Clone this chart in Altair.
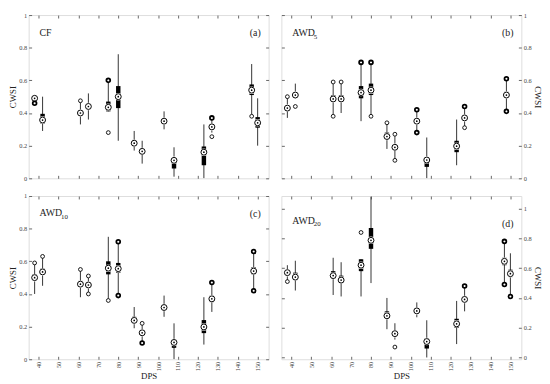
import altair as alt
import pandas as pd

FONT = "Liberation Serif"
DPS_TICKS = [40, 50, 60, 70, 80, 90, 100, 110, 120, 130, 140, 150]
Y_TICKS = [0, 0.2, 0.4, 0.6, 0.8, 1]
X_DOMAIN = [35, 155.5]

# ---------------- Panel (a) CF ----------------
pos_a = [38, 42, 61, 65, 75, 80, 88, 92, 103, 108, 123, 127, 147, 150]
med_a = [0.49, 0.357, 0.40, 0.44, 0.435, 0.50, 0.215, 0.165, 0.35, 0.11, 0.16, 0.315, 0.54, 0.34]
q1_a = [0.485, 0.335, 0.39, 0.425, 0.41, 0.43, 0.20, 0.155, 0.34, 0.06, 0.08, 0.31, 0.51, 0.31]
q3_a = [0.495, 0.395, 0.41, 0.455, 0.47, 0.565, 0.235, 0.18, 0.36, 0.125, 0.195, 0.33, 0.575, 0.375]
lo_a = [0.49, 0.29, 0.33, 0.36, 0.41, 0.23, 0.17, 0.09, 0.30, 0.01, 0.0, 0.28, 0.39, 0.20]
hi_a = [0.49, 0.50, 0.47, 0.52, 0.60, 0.76, 0.29, 0.23, 0.41, 0.19, 0.33, 0.36, 0.70, 0.49]
ox_a = [38, 61, 75, 75, 127, 127, 147]
oy_a = [0.46, 0.475, 0.60, 0.28, 0.37, 0.255, 0.38]
ob_a = [1, 0, 1, 0, 1, 0, 0]

# ---------------- Panel (b) AWD5 ----------------
pos_b = [38, 42, 61, 65, 75, 80, 88, 92, 103, 108, 123, 127, 148]
med_b = [0.43, 0.51, 0.486, 0.486, 0.525, 0.54, 0.256, 0.19, 0.35, 0.112, 0.197, 0.37, 0.51]
q1_b = [0.42, 0.50, 0.47, 0.47, 0.49, 0.51, 0.24, 0.18, 0.34, 0.07, 0.16, 0.36, 0.50]
q3_b = [0.44, 0.52, 0.51, 0.51, 0.565, 0.58, 0.28, 0.20, 0.36, 0.13, 0.23, 0.38, 0.53]
lo_b = [0.37, 0.49, 0.38, 0.40, 0.35, 0.38, 0.18, 0.11, 0.28, 0.0, 0.08, 0.31, 0.41]
hi_b = [0.50, 0.58, 0.59, 0.59, 0.71, 0.71, 0.34, 0.27, 0.42, 0.25, 0.36, 0.44, 0.61]
ox_b = [38, 42, 61, 61, 65, 75, 80, 80, 88, 92, 92, 103, 103, 127, 127, 148, 148]
oy_b = [0.50, 0.44, 0.59, 0.38, 0.59, 0.71, 0.71, 0.38, 0.34, 0.27, 0.11, 0.42, 0.28, 0.44, 0.31, 0.61, 0.41]
ob_b = [0, 0, 0, 0, 0, 1, 1, 0, 0, 0, 0, 1, 1, 1, 0, 1, 1]

# ---------------- Panel (c) AWD10 ----------------
pos_c = [38, 42, 61, 65, 75, 80, 88, 92, 103, 108, 123, 127, 148]
med_c = [0.50, 0.535, 0.46, 0.455, 0.558, 0.555, 0.238, 0.162, 0.317, 0.103, 0.198, 0.37, 0.54]
q1_c = [0.48, 0.52, 0.45, 0.45, 0.52, 0.53, 0.23, 0.155, 0.31, 0.07, 0.16, 0.35, 0.52]
q3_c = [0.52, 0.555, 0.48, 0.46, 0.60, 0.59, 0.26, 0.17, 0.325, 0.12, 0.24, 0.39, 0.565]
lo_c = [0.40, 0.45, 0.38, 0.40, 0.37, 0.39, 0.19, 0.10, 0.26, 0.0, 0.09, 0.29, 0.42]
hi_c = [0.59, 0.63, 0.55, 0.51, 0.75, 0.72, 0.32, 0.22, 0.39, 0.22, 0.38, 0.47, 0.66]
ox_c = [38, 42, 61, 65, 65, 75, 80, 80, 92, 92, 127, 148, 148]
oy_c = [0.59, 0.63, 0.55, 0.51, 0.40, 0.36, 0.72, 0.39, 0.22, 0.10, 0.47, 0.66, 0.42]
ob_c = [0, 0, 0, 0, 0, 0, 1, 1, 0, 1, 1, 1, 1]

# ---------------- Panel (d) AWD20 ----------------
pos_d = [38, 42, 61, 65, 75, 80, 88, 92, 103, 108, 123, 127, 147, 150]
med_d = [0.57, 0.54, 0.55, 0.52, 0.62, 0.787, 0.28, 0.16, 0.313, 0.107, 0.226, 0.39, 0.646, 0.563]
q1_d = [0.56, 0.52, 0.53, 0.50, 0.58, 0.73, 0.27, 0.155, 0.305, 0.06, 0.20, 0.38, 0.62, 0.54]
q3_d = [0.58, 0.57, 0.58, 0.55, 0.66, 0.87, 0.31, 0.17, 0.32, 0.13, 0.26, 0.41, 0.67, 0.59]
lo_d = [0.50, 0.45, 0.42, 0.41, 0.41, 0.50, 0.19, 0.12, 0.27, 0.0, 0.09, 0.31, 0.50, 0.41]
hi_d = [0.62, 0.65, 0.67, 0.64, 0.66, 1.08, 0.40, 0.23, 0.37, 0.25, 0.38, 0.48, 0.78, 0.70]
ox_d = [38, 75, 92, 127, 147, 147, 150]
oy_d = [0.51, 0.84, 0.07, 0.48, 0.78, 0.49, 0.41]
ob_d = [0, 0, 0, 1, 1, 1, 1]


def make_axis(orient, labels, title=None, values=None, angle=None, fmt=None):
    kw = dict(orient=orient, values=values, labels=labels, tickSize=3, offset=-3,
              domain=False, grid=False, tickColor="#666", labelColor="#444",
              labelFont=FONT, labelFontSize=6.5, labelPadding=2, labelFlush=False,
              titleFont=FONT, titleFontSize=9, titleFontWeight="normal",
              titleColor="#222", titlePadding=1, title=title)
    if angle is not None:
        kw["labelAngle"] = angle
    if fmt is not None:
        kw["format"] = fmt
    return alt.Axis(**kw)


def panel(pos, med, q1, q3, lo, hi, ox, oy, ob, ydom, yside, xlabels,
          main, sub, tag, ty, tagy, w, h):
    df = pd.DataFrame(dict(x=pos, med=med, q1=q1, q3=q3, lo=lo, hi=hi))
    od = pd.DataFrame(dict(x=ox, y=oy, bold=ob))
    xs = alt.Scale(domain=X_DOMAIN, nice=False, zero=False)
    ys = alt.Scale(domain=ydom, nice=False, zero=False)
    other = "left" if yside == "right" else "right"

    if xlabels:
        xa = make_axis("bottom", True, "DPS", DPS_TICKS, angle=-90)
    else:
        xa = make_axis("bottom", False, None, DPS_TICKS)
    ya = make_axis(yside, True, "CWSI", Y_TICKS, fmt="~g")

    base = alt.Chart(df)
    whisk = base.mark_rule(color="#333", strokeWidth=1, clip=True).encode(
        x=alt.X("x:Q", scale=xs, axis=xa),
        y=alt.Y("lo:Q", scale=ys, axis=ya),
        y2="hi:Q")
    box = base.mark_rule(color="black", strokeWidth=4.5, strokeCap="butt").encode(
        x=alt.X("x:Q", scale=xs, axis=None),
        y=alt.Y("q1:Q", scale=ys, axis=None),
        y2="q3:Q")
    halo = base.mark_point(shape="circle", filled=True, color="white", size=58, opacity=1).encode(
        x=alt.X("x:Q", scale=xs, axis=None),
        y=alt.Y("med:Q", scale=ys, axis=None))
    ring = base.mark_point(shape="circle", filled=False, color="black", size=36,
                           strokeWidth=1, opacity=1).encode(
        x=alt.X("x:Q", scale=xs, axis=None),
        y=alt.Y("med:Q", scale=ys, axis=None))
    dot = base.mark_point(shape="circle", filled=True, color="black", size=3, opacity=1).encode(
        x=alt.X("x:Q", scale=xs, axis=None),
        y=alt.Y("med:Q", scale=ys, axis=None))
    outl = alt.Chart(od).mark_point(shape="circle", filled=False, color="black",
                                    size=15, opacity=1, fill="white", fillOpacity=1).encode(
        x=alt.X("x:Q", scale=xs, axis=None),
        y=alt.Y("y:Q", scale=ys, axis=None),
        strokeWidth=alt.condition("datum.bold == 1", alt.value(1.8), alt.value(0.9)))
    mirror = alt.Chart(od).mark_point(opacity=0).encode(
        x=alt.X("x:Q", scale=xs, axis=make_axis("top", False, None, DPS_TICKS)),
        y=alt.Y("y:Q", scale=ys, axis=make_axis(other, False, None, Y_TICKS)))

    tdf = pd.DataFrame(dict(t=[main]))
    t_main = alt.Chart(tdf).mark_text(font=FONT, fontSize=10, align="left",
                                      baseline="middle", color="#222").encode(
        text="t:N", x=alt.value(11), y=alt.value(ty))
    layers = [whisk, box, halo, ring, dot, outl, mirror, t_main]
    if sub:
        sdf = pd.DataFrame(dict(t=[sub]))
        layers.append(alt.Chart(sdf).mark_text(font=FONT, fontSize=7, align="left",
                                               baseline="middle", color="#222").encode(
            text="t:N", x=alt.value(33), y=alt.value(ty + 4)))
    gdf = pd.DataFrame(dict(t=[tag]))
    layers.append(alt.Chart(gdf).mark_text(font=FONT, fontSize=10, align="right",
                                           baseline="middle", color="#222").encode(
        text="t:N", x=alt.value(w - 8), y=alt.value(tagy)))

    return alt.layer(*layers).resolve_axis(x="independent", y="independent").properties(
        width=w, height=h)


W = 244
H = 166
pa = panel(pos_a, med_a, q1_a, q3_a, lo_a, hi_a, ox_a, oy_a, ob_a, [0, 1], "left", False,
           "CF", None, "(a)", 18, 18, W, H)
pb = panel(pos_b, med_b, q1_b, q3_b, lo_b, hi_b, ox_b, oy_b, ob_b, [0, 1], "right", False,
           "AWD", "5", "(b)", 18, 18, W, H)
pc = panel(pos_c, med_c, q1_c, q3_c, lo_c, hi_c, ox_c, oy_c, ob_c, [0, 1], "left", True,
           "AWD", "10", "(c)", 17, 18, W, H)
pd_ = panel(pos_d, med_d, q1_d, q3_d, lo_d, hi_d, ox_d, oy_d, ob_d, [-0.012, 1.085], "right", True,
            "AWD", "20", "(d)", 25, 29, W, H)

chart = alt.vconcat(
    alt.hconcat(pa, pb, spacing=11),
    alt.hconcat(pc, pd_, spacing=11),
    spacing=10,
).properties(padding=0).configure_view(stroke="#777", strokeWidth=1).configure(
    background="white")

chart.save("out.html", embed_options={"renderer": "svg", "actions": False})
